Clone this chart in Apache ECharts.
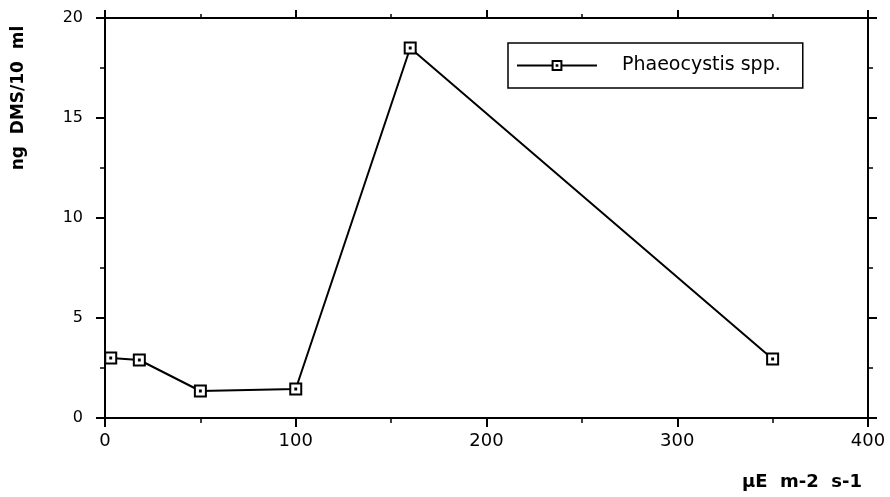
<!DOCTYPE html>
<html><head><meta charset="utf-8">
<script src="https://cdn.jsdelivr.net/npm/echarts@6/dist/echarts.min.js"></script>
<style>html,body{margin:0;padding:0;background:#fff}#c{width:890px;height:497px}</style>
</head><body><div id="c"></div>
<script>
const lightLevels = [3, 18, 50, 100, 160, 350];
const dmsValues = [3.0, 2.9, 1.35, 1.45, 18.5, 2.95];
const seriesName = 'Phaeocystis spp.';
const xTitle = 'µE  m-2  s-1';
const yTitle = 'ng  DMS/10  ml';

const chart = echarts.init(document.getElementById('c'), null, {renderer: 'canvas'});
const font = 'DejaVu Sans';
const axisLine = {show: true, onZero: false, lineStyle: {color: '#000', width: 2}};
const sym = 'path://M0,0L10,0L10,10L0,10Z M4.6,4.6L5.4,4.6L5.4,5.4L4.6,5.4Z';
const pts = lightLevels.map((x, i) => [x, dmsValues[i]]);
chart.setOption({
  animation: false,
  grid: {left: 105, right: 22, top: 18, bottom: 79, containLabel: false},
  legend: {
    left: 508, top: 43, orient: 'horizontal',
    itemWidth: 80, itemHeight: 11, itemGap: 10,
    borderColor: '#000', borderWidth: 1.5, padding: [13, 22, 13, 8],
    textStyle: {fontFamily: font, fontSize: 19, color: '#000', padding: [0, 0, 0, 20]},
    data: [seriesName]
  },
  xAxis: [{
    type: 'value', min: 0, max: 400, interval: 100, position: 'bottom',
    axisLine: axisLine,
    axisTick: {show: true, inside: false, length: 9, lineStyle: {width: 2, color: '#000'}},
    minorTick: {show: true, splitNumber: 2, length: 5, lineStyle: {width: 1.5, color: '#000'}},
    splitLine: {show: false},
    axisLabel: {fontFamily: font, fontSize: 18, color: '#000', margin: 14},
    name: xTitle, nameLocation: 'end', nameGap: 0,
    nameTextStyle: {fontFamily: font, fontSize: 18, fontWeight: 'bold', color: '#000', align: 'right', verticalAlign: 'top', padding: [55, 6, 0, 0]}
  }, {
    type: 'value', min: 0, max: 400, interval: 100, position: 'top',
    axisLine: axisLine,
    axisTick: {show: true, inside: false, length: 8, lineStyle: {width: 2, color: '#000'}},
    minorTick: {show: true, splitNumber: 2, length: 4, lineStyle: {width: 1.5, color: '#000'}},
    splitLine: {show: false}, axisLabel: {show: false}
  }],
  yAxis: [{
    type: 'value', min: 0, max: 20, interval: 5, position: 'left',
    axisLine: axisLine,
    axisTick: {show: true, inside: false, length: 9, lineStyle: {width: 2, color: '#000'}},
    minorTick: {show: true, splitNumber: 2, length: 5, lineStyle: {width: 1.5, color: '#000'}},
    splitLine: {show: false},
    axisLabel: {fontFamily: font, fontSize: 16, color: '#000', margin: 22},
    name: yTitle, nameLocation: 'middle', nameGap: 78, nameRotate: 90,
    nameTextStyle: {fontFamily: font, fontSize: 17, fontWeight: 'bold', color: '#000', padding: [0, 0, 0, 240]}
  }, {
    type: 'value', min: 0, max: 20, interval: 5, position: 'right',
    axisLine: axisLine,
    axisTick: {show: true, inside: false, length: 9, lineStyle: {width: 2, color: '#000'}},
    minorTick: {show: true, splitNumber: 2, length: 5, lineStyle: {width: 1.5, color: '#000'}},
    splitLine: {show: false}, axisLabel: {show: false}
  }],
  series: [{
    name: seriesName, type: 'line',
    data: pts,
    symbol: sym, symbolSize: 11, showAllSymbol: true,
    lineStyle: {color: '#000', width: 2},
    itemStyle: {color: '#fff', borderColor: '#000', borderWidth: 2},
    z: 3
  }, {
    name: 'frame', type: 'line', xAxisIndex: 1, yAxisIndex: 1,
    data: pts, symbol: 'none', silent: true,
    lineStyle: {opacity: 0}, itemStyle: {opacity: 0}, z: 1
  }]
});
</script></body></html>
